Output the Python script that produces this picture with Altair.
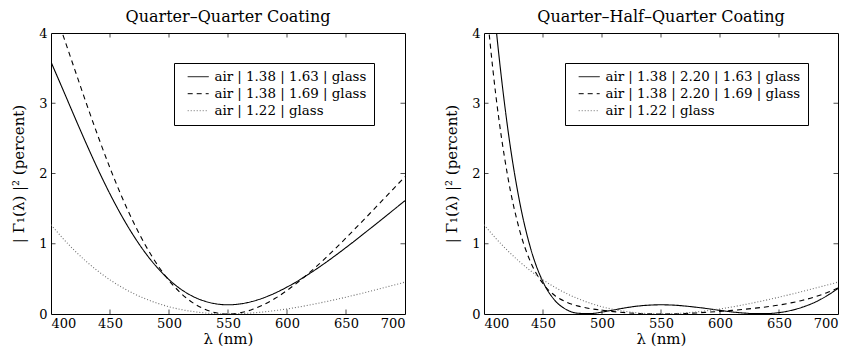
import altair as alt
import pandas as pd

# wavelength grid (nm)
wavelength_nm = [400, 410, 420, 430, 440, 450, 460, 470, 480, 490, 500,
                 510, 520, 530, 540, 550, 560, 570, 580, 590, 600,
                 610, 620, 630, 640, 650, 660, 670, 680, 690, 700]

# reflectance |Gamma_1|^2 in percent
qq_163 = [3.587, 3.199, 2.806, 2.421, 2.052, 1.708, 1.394, 1.114, 0.869, 0.661, 0.490,
          0.354, 0.253, 0.184, 0.144, 0.131, 0.143, 0.177, 0.229, 0.299, 0.383,
          0.479, 0.585, 0.699, 0.820, 0.946, 1.076, 1.209, 1.343, 1.478, 1.613]
qq_169 = [4.456, 3.978, 3.486, 2.996, 2.524, 2.079, 1.669, 1.302, 0.979, 0.705, 0.478,
          0.297, 0.162, 0.070, 0.017, 0.000, 0.016, 0.061, 0.131, 0.223, 0.335,
          0.463, 0.603, 0.755, 0.915, 1.082, 1.253, 1.427, 1.603, 1.779, 1.954]
single_122 = [1.271, 1.078, 0.903, 0.746, 0.608, 0.486, 0.381, 0.291, 0.216, 0.154, 0.103,
              0.064, 0.036, 0.016, 0.005, 0.002, 0.005, 0.014, 0.029, 0.049, 0.072,
              0.100, 0.131, 0.165, 0.201, 0.240, 0.280, 0.322, 0.365, 0.409, 0.454]
qhq_163 = [6.015, 4.109, 2.657, 1.614, 0.906, 0.457, 0.195, 0.061, 0.010, 0.006, 0.028,
           0.058, 0.088, 0.112, 0.126, 0.131, 0.127, 0.114, 0.096, 0.075, 0.051,
           0.030, 0.014, 0.005, 0.006, 0.020, 0.050, 0.098, 0.164, 0.253, 0.364]
qhq_169 = [4.743, 3.118, 1.969, 1.203, 0.720, 0.431, 0.263, 0.168, 0.112, 0.077, 0.053,
           0.034, 0.019, 0.008, 0.002, 0.000, 0.002, 0.007, 0.015, 0.026, 0.038,
           0.051, 0.066, 0.083, 0.103, 0.127, 0.158, 0.195, 0.242, 0.300, 0.370]

left_names = ["air | 1.38 | 1.63 | glass",
              "air | 1.38 | 1.69 | glass",
              "air | 1.22 | glass"]
right_names = ["air | 1.38 | 2.20 | 1.63 | glass",
               "air | 1.38 | 2.20 | 1.69 | glass",
               "air | 1.22 | glass"]

left_title = "Quarter\u2013Quarter Coating"
right_title = "Quarter\u2013Half\u2013Quarter Coating"
x_title = "\u03bb (nm)"
y_title = "| \u0393\u2081(\u03bb) |\u00b2    (percent)"

x_tick_labels = [400, 450, 500, 550, 600, 650, 700]
y_tick_labels = [0, 1, 2, 3, 4]
x_inner_ticks = [450, 500, 550, 600, 650]
y_inner_ticks = [1, 2, 3]

FONT = "DejaVu Serif"
W, H = 354, 281


def long_frame(names, series_list):
    rows = []
    for name, vals in zip(names, series_list):
        for lam, val in zip(wavelength_nm, vals):
            rows.append({"lam": lam, "R": val, "series": name})
    return pd.DataFrame(rows)


def panel(names, series_list, title, lx, ly):
    xs = alt.Scale(domain=[400, 700], nice=False, zero=False)
    ys = alt.Scale(domain=[0, 4], nice=False)
    xaxis = alt.Axis(values=x_tick_labels, title=x_title, format="d")
    yaxis = alt.Axis(values=y_tick_labels, title=y_title, format="d")
    leg = alt.Legend(title=None, orient="none", legendX=lx, legendY=ly,
                     direction="vertical", fillColor="white", strokeColor="black",
                     padding=7, symbolType="M0,0H4", symbolSize=110,
                     symbolStrokeWidth=1, labelFont=FONT, labelFontSize=13.4,
                     labelColor="black", labelLimit=0, rowPadding=2,
                     cornerRadius=0, labelOffset=20)
    lines = alt.Chart(long_frame(names, series_list)).mark_line(
        clip=True, strokeWidth=1.1, interpolate="monotone"
    ).encode(
        x=alt.X("lam:Q", scale=xs, axis=xaxis),
        y=alt.Y("R:Q", scale=ys, axis=yaxis),
        strokeDash=alt.StrokeDash("series:N", sort=names,
                                  scale=alt.Scale(domain=names, range=[[1, 0], [5, 4], [1, 2]]),
                                  legend=leg),
        color=alt.Color("series:N", sort=names,
                        scale=alt.Scale(domain=names, range=["#000000", "#000000", "#707070"]),
                        legend=leg),
    )
    xt = alt.Chart(pd.DataFrame({"t": x_inner_ticks}))
    yt = alt.Chart(pd.DataFrame({"t": y_inner_ticks}))
    tick_style = dict(clip=True, thickness=1, color="black", size=9)
    xb = xt.mark_tick(orient="vertical", **tick_style).encode(
        x=alt.X("t:Q", scale=xs, axis=xaxis), y=alt.YDatum(0, axis=yaxis))
    xtop = xt.mark_tick(orient="vertical", **tick_style).encode(
        x=alt.X("t:Q", scale=xs, axis=xaxis), y=alt.YDatum(4, axis=yaxis))
    yl = yt.mark_tick(orient="horizontal", **tick_style).encode(
        y=alt.Y("t:Q", scale=ys, axis=yaxis), x=alt.XDatum(400, axis=xaxis))
    yr = yt.mark_tick(orient="horizontal", **tick_style).encode(
        y=alt.Y("t:Q", scale=ys, axis=yaxis), x=alt.XDatum(700, axis=xaxis))
    return alt.layer(lines, xb, xtop, yl, yr).properties(
        width=W, height=H,
        title=alt.Title(title, font=FONT, fontSize=16, fontWeight="normal",
                        color="black", offset=2),
    )


left = panel(left_names, [qq_163, qq_169, single_122], left_title, 123, 30)
right = panel(right_names, [qhq_163, qhq_169, single_122], right_title, 81, 30)

chart = alt.hconcat(left, right, spacing=79, bounds="flush").resolve_scale(
    color="independent", strokeDash="independent"
).resolve_legend(
    color="independent", strokeDash="independent"
).properties(
    padding={"left": 3, "top": 0, "right": 5, "bottom": 0}
).configure_view(
    stroke="black", strokeWidth=1
).configure_axis(
    domain=False, ticks=False, grid=False,
    labelFont=FONT, labelFontSize=13, labelColor="black",
    titleFont=FONT, titleFontSize=15, titleFontWeight="normal", titleColor="black",
).configure_axisX(
    labelPadding=3, titlePadding=1,
).configure_axisY(
    labelPadding=4, titlePadding=12,
)

chart.save("out.html", embed_options={"renderer": "svg", "actions": False})
